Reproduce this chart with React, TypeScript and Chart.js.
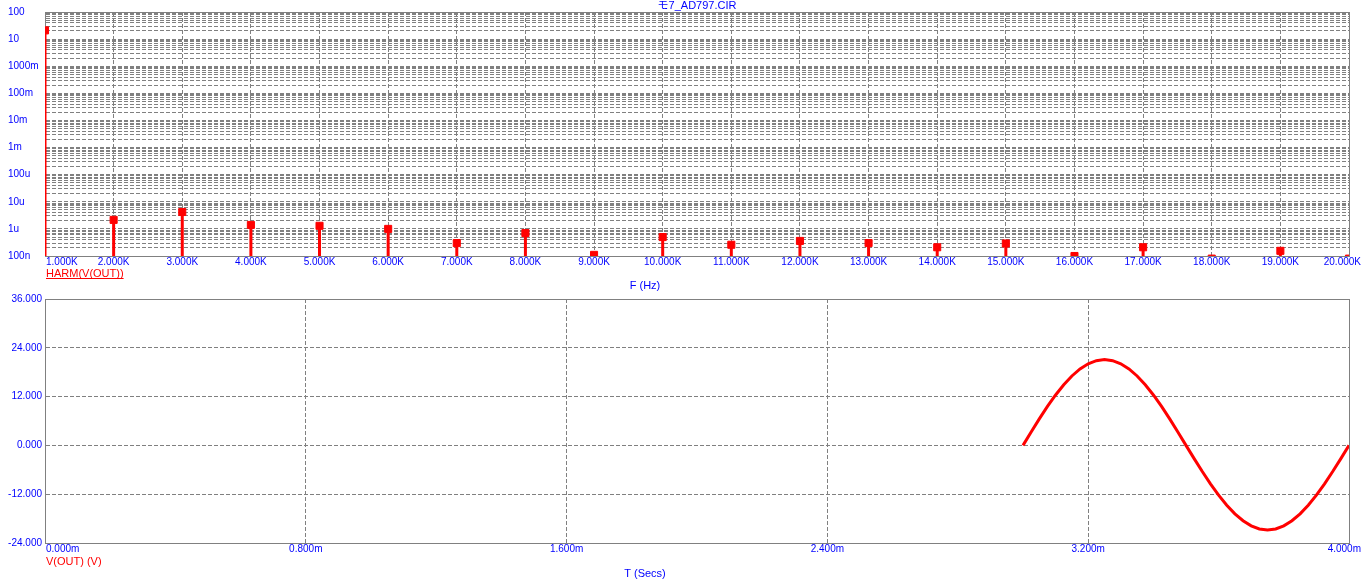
import React, { useEffect, useRef } from 'react';
import { Chart, registerables } from 'chart.js';

Chart.register(...registerables);

// ---------- data ----------
const titleText = 'モ7_AD797.CIR';

const harmonicFreqs = [1000, 2000, 3000, 4000, 5000, 6000, 7000, 8000, 9000, 10000, 11000, 12000, 13000, 14000, 15000, 16000, 17000, 18000, 19000, 20000];
const harmonicMags = [21.0, 2.15e-6, 4.2e-6, 1.4e-6, 1.3e-6, 1.0e-6, 3.0e-7, 7.0e-7, 1.1e-7, 5.0e-7, 2.6e-7, 3.6e-7, 3.0e-7, 2.1e-7, 2.9e-7, 1.0e-7, 2.1e-7, 8.0e-8, 1.55e-7, 8.0e-8];

const freqTickValues = [1000, 2000, 3000, 4000, 5000, 6000, 7000, 8000, 9000, 10000, 11000, 12000, 13000, 14000, 15000, 16000, 17000, 18000, 19000, 20000];
const freqTickLabels = ['1.000K', '2.000K', '3.000K', '4.000K', '5.000K', '6.000K', '7.000K', '8.000K', '9.000K', '10.000K', '11.000K', '12.000K', '13.000K', '14.000K', '15.000K', '16.000K', '17.000K', '18.000K', '19.000K', '20.000K'];

const logDecadeValues = [1e-7, 1e-6, 1e-5, 1e-4, 1e-3, 1e-2, 1e-1, 1, 10, 100];
const logDecadeLabels = ['100n', '1u', '10u', '100u', '1m', '10m', '100m', '1000m', '10', '100'];

const timeMs = [3.000, 3.025, 3.050, 3.075, 3.100, 3.125, 3.150, 3.175, 3.200, 3.225, 3.250, 3.275, 3.300, 3.325, 3.350, 3.375, 3.400, 3.425, 3.450, 3.475, 3.500, 3.525, 3.550, 3.575, 3.600, 3.625, 3.650, 3.675, 3.700, 3.725, 3.750, 3.775, 3.800, 3.825, 3.850, 3.875, 3.900, 3.925, 3.950, 3.975, 4.000];
const voutValues = [0.00, 3.30, 6.52, 9.58, 12.40, 14.92, 17.07, 18.80, 20.07, 20.84, 21.10, 20.84, 20.07, 18.80, 17.07, 14.92, 12.40, 9.58, 6.52, 3.30, 0.00, -3.25, -6.43, -9.44, -12.23, -14.71, -16.83, -18.53, -19.78, -20.54, -20.80, -20.54, -19.78, -18.53, -16.83, -14.71, -12.23, -9.44, -6.43, -3.25, 0.00];

const timeTickValues = [0, 0.8, 1.6, 2.4, 3.2, 4.0];
const timeTickLabels = ['0.000m', '0.800m', '1.600m', '2.400m', '3.200m', '4.000m'];
const voltTickValues = [-24, -12, 0, 12, 24, 36];
const voltTickLabels = ['-24.000', '-12.000', '0.000', '12.000', '24.000', '36.000'];

const topSeriesLabel = 'HARM(V(OUT))';
const topAxisTitle = 'F (Hz)';
const bottomSeriesLabel = 'V(OUT) (V)';
const bottomAxisTitle = 'T (Secs)';

// ---------- styles ----------
const BLUE = '#0000ff';
const RED = '#ff0000';
const GRID = '#808080';
const FAMILY = '"Liberation Sans", Arial, "Noto Sans CJK JP", sans-serif';

// log grid positions (1..9 per decade)
const logGridValues: number[] = [];
for (let i = 0; i < logDecadeValues.length - 1; i++) {
  for (let m = 1; m <= 9; m++) logGridValues.push(logDecadeValues[i] * m);
}
logGridValues.push(logDecadeValues[logDecadeValues.length - 1]);

const framePlugin = {
  id: 'frame',
  beforeDatasetsDraw(chart: any) {
    const { ctx, chartArea } = chart;
    const l = Math.round(chartArea.left) + 0.5;
    const t = Math.round(chartArea.top) + 0.5;
    const r = Math.round(chartArea.right) + 0.5;
    const b = Math.round(chartArea.bottom) + 0.5;
    ctx.save();
    ctx.strokeStyle = GRID;
    ctx.lineWidth = 1;
    ctx.setLineDash([]);
    ctx.strokeRect(l, t, r - l, b - t);
    ctx.restore();
  },
};

function drawXLabels(chart: any, values: number[], labels: string[], y: number) {
  const { ctx, chartArea, scales } = chart;
  ctx.save();
  ctx.font = `10px ${FAMILY}`;
  ctx.fillStyle = BLUE;
  ctx.textAlign = 'left';
  ctx.textBaseline = 'middle';
  values.forEach((v, i) => {
    const label = labels[i];
    const x = scales.x.getPixelForValue(v);
    const w = ctx.measureText(label).width;
    let left = x - w / 2;
    left = Math.max(left, chartArea.left + 1);
    left = Math.min(left, chart.width - 1 - w);
    ctx.fillText(label, left, y);
  });
  ctx.restore();
}

const topTextPlugin = {
  id: 'topText',
  afterDraw(chart: any) {
    const { ctx, chartArea } = chart;
    ctx.save();
    ctx.font = `11px ${FAMILY}`;
    ctx.fillStyle = BLUE;
    ctx.textAlign = 'center';
    ctx.textBaseline = 'middle';
    ctx.fillText(titleText, (chartArea.left + chartArea.right) / 2, 5.5);
    ctx.fillText(topAxisTitle, 645, 286);
    ctx.fillStyle = RED;
    ctx.textAlign = 'left';
    ctx.fillText(topSeriesLabel, chartArea.left + 1, 274);
    const w = ctx.measureText(topSeriesLabel).width;
    ctx.fillRect(chartArea.left + 1, 278, w, 1);
    ctx.restore();
    drawXLabels(chart, freqTickValues, freqTickLabels, 262.5);
  },
};

const bottomTextPlugin = {
  id: 'bottomText',
  afterDraw(chart: any) {
    const { ctx, chartArea } = chart;
    ctx.save();
    ctx.font = `11px ${FAMILY}`;
    ctx.textBaseline = 'middle';
    ctx.fillStyle = RED;
    ctx.textAlign = 'left';
    ctx.fillText(bottomSeriesLabel, chartArea.left + 1, 281.5);
    ctx.fillStyle = BLUE;
    ctx.textAlign = 'center';
    ctx.fillText(bottomAxisTitle, 645, 293.5);
    ctx.restore();
    drawXLabels(chart, timeTickValues, timeTickLabels, 269.5);
  },
};

function topConfig(): any {
  return {
    type: 'bar',
    data: {
      datasets: [
        {
          type: 'scatter',
          data: harmonicFreqs.map((f, i) => ({ x: f, y: harmonicMags[i] })),
          pointStyle: 'rect',
          pointRadius: 5,
          pointBorderWidth: 1,
          pointBackgroundColor: RED,
          pointBorderColor: RED,
          clip: 0,
        },
        {
          type: 'bar',
          data: harmonicFreqs.map((f, i) => ({ x: f, y: harmonicMags[i] })),
          backgroundColor: RED,
          borderWidth: 0,
          barThickness: 3,
          inflateAmount: 0,
          clip: 0,
        },
      ],
    },
    options: {
      animation: false,
      responsive: false,
      devicePixelRatio: 1,
      events: [],
      layout: { padding: { left: 8, top: 12, right: 13, bottom: 0 } },
      plugins: { legend: { display: false }, tooltip: { enabled: false } },
      scales: {
        x: {
          type: 'linear',
          offset: false,
          min: freqTickValues[0],
          max: freqTickValues[freqTickValues.length - 1],
          afterBuildTicks: (s: any) => { s.ticks = freqTickValues.map((v) => ({ value: v })); },
          afterFit: (s: any) => { s.height = 44; },
          ticks: { display: false },
          grid: { offset: false, color: GRID, lineWidth: 1, drawTicks: false },
          border: { color: GRID, dash: [4, 2] },
        },
        y: {
          type: 'logarithmic',
          min: logDecadeValues[0],
          max: logDecadeValues[logDecadeValues.length - 1],
          afterBuildTicks: (s: any) => { s.ticks = logGridValues.map((v) => ({ value: v })); },
          afterFit: (s: any) => { s.width = 37; },
          ticks: {
            autoSkip: false,
            crossAlign: 'far',
            padding: 0,
            color: BLUE,
            font: { family: FAMILY, size: 10 },
            callback: (value: number) => {
              const i = logDecadeValues.findIndex((d) => Math.abs(Math.log10(d) - Math.log10(value)) < 1e-6);
              return i >= 0 ? logDecadeLabels[i] : '';
            },
          },
          grid: { color: GRID, lineWidth: 1, drawTicks: false },
          border: { color: GRID, dash: [4, 2] },
        },
      },
    },
    plugins: [framePlugin, topTextPlugin],
  };
}

function bottomConfig(): any {
  return {
    type: 'line',
    data: {
      datasets: [
        {
          data: timeMs.map((t, i) => ({ x: t, y: voutValues[i] })),
          borderColor: RED,
          borderWidth: 3,
          pointRadius: 0,
          tension: 0,
          fill: false,
        },
      ],
    },
    options: {
      animation: false,
      responsive: false,
      devicePixelRatio: 1,
      events: [],
      layout: { padding: { left: 0, top: 19, right: 13, bottom: 0 } },
      plugins: { legend: { display: false }, tooltip: { enabled: false } },
      scales: {
        x: {
          type: 'linear',
          min: timeTickValues[0],
          max: timeTickValues[timeTickValues.length - 1],
          afterBuildTicks: (s: any) => { s.ticks = timeTickValues.map((v) => ({ value: v })); },
          afterFit: (s: any) => { s.height = 43; },
          ticks: { display: false },
          grid: { color: GRID, lineWidth: 1, drawTicks: false },
          border: { color: GRID, dash: [4, 2] },
        },
        y: {
          type: 'linear',
          min: voltTickValues[0],
          max: voltTickValues[voltTickValues.length - 1],
          afterBuildTicks: (s: any) => { s.ticks = voltTickValues.map((v) => ({ value: v })); },
          afterFit: (s: any) => { s.width = 45; },
          ticks: {
            autoSkip: false,
            padding: 3,
            color: BLUE,
            font: { family: FAMILY, size: 10 },
            callback: (value: number) => {
              const i = voltTickValues.findIndex((v) => Math.abs(v - value) < 1e-9);
              return i >= 0 ? voltTickLabels[i] : '';
            },
          },
          grid: { color: GRID, lineWidth: 1, drawTicks: false },
          border: { color: GRID, dash: [4, 2] },
        },
      },
    },
    plugins: [framePlugin, bottomTextPlugin],
  };
}

export default function App() {
  const topRef = useRef<HTMLCanvasElement>(null);
  const botRef = useRef<HTMLCanvasElement>(null);
  useEffect(() => {
    const top = new Chart(topRef.current as HTMLCanvasElement, topConfig());
    const bot = new Chart(botRef.current as HTMLCanvasElement, bottomConfig());
    return () => {
      top.destroy();
      bot.destroy();
    };
  }, []);
  return (
    <div style={{ position: 'absolute', left: 0, top: 0, width: 1362, height: 586, background: '#ffffff', overflow: 'hidden' }}>
      <canvas ref={topRef} width={1362} height={300} style={{ position: 'absolute', left: 0, top: 0 }} />
      <canvas ref={botRef} width={1362} height={306} style={{ position: 'absolute', left: 0, top: 280 }} />
    </div>
  );
}
